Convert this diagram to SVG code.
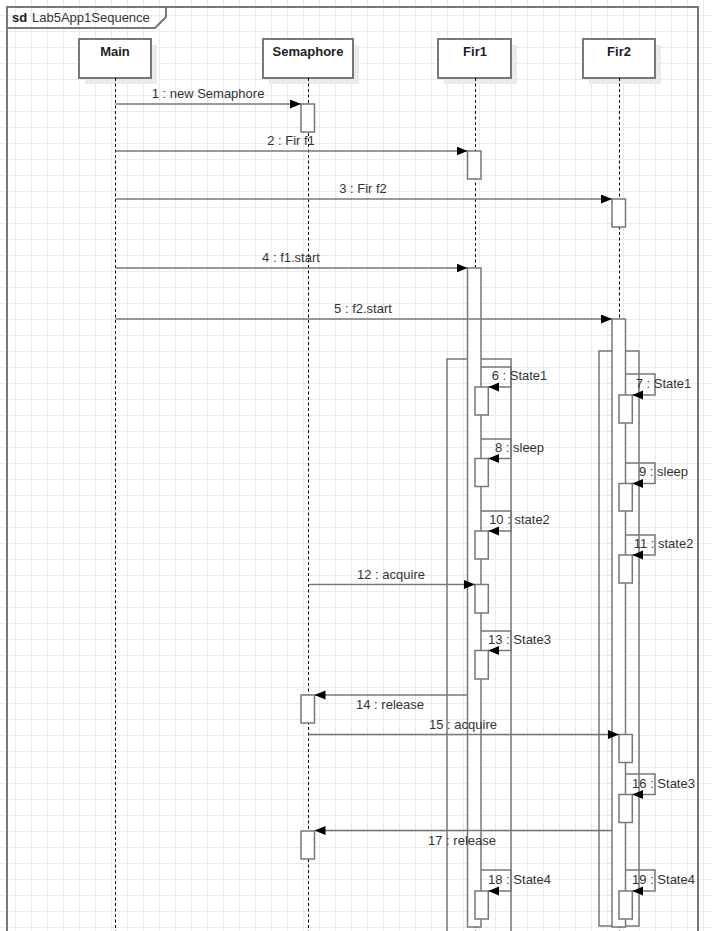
<svg xmlns="http://www.w3.org/2000/svg" width="712" height="931" viewBox="0 0 712 931">
  <defs>
    <pattern id="grid" width="16" height="16" patternUnits="userSpaceOnUse">
      <path d="M15.5,0 V16 M0,15.5 H16" fill="none" stroke="#ebebeb" stroke-width="1"/>
    </pattern>
    <marker id="arrow" markerUnits="userSpaceOnUse" markerWidth="12" markerHeight="10" refX="11" refY="4.5" orient="auto">
      <path d="M0,0 L11,4.5 L0,9 Z" fill="#000"/>
    </marker>
    <style>
      text { font-family: "Liberation Sans", Arial, sans-serif; font-size: 13px; fill: #333; }
      .head { font-weight: bold; fill: #222; text-anchor: middle; }
      .lbl { text-anchor: middle; }
      .box { fill: #fff; stroke: #787878; stroke-width: 2; }
      .shadow { fill: #ebebeb; }
      .life { stroke: #000; stroke-width: 1; stroke-dasharray: 3 2.5; fill: none; }
      .act { fill: #fff; stroke: #787878; stroke-width: 1.5; }
      .outer { fill: none; stroke: #787878; stroke-width: 1.5; }
      .msg { fill: none; stroke: #787878; stroke-width: 1.5; }
      .frame { fill: none; stroke: #787878; stroke-width: 2; }
    </style>
  </defs>

  <!-- background grid -->
  <rect x="0" y="0" width="712" height="931" fill="#fff"/>
  <rect x="0" y="0" width="712" height="931" fill="url(#grid)"/>

  <!-- interaction frame -->
  <g id="frame">
    <path class="frame" d="M7,931 V7 H698 V931"/>
    <path class="frame" d="M7,7 H166 V17 L155,28 H7"/>
    <text x="12" y="22" style="font-weight:bold;fill:#222">sd</text>
    <text x="32" y="22">Lab5App1Sequence</text>
  </g>

  <!-- lifelines -->
  <g id="Main">
    <rect class="shadow" x="85" y="45" width="72" height="39"/>
    <rect class="box" x="79" y="39" width="72" height="39"/>
    <text class="head" x="115" y="56">Main</text>
    <line class="life" x1="115.5" y1="78" x2="115.5" y2="931"/>
  </g>

  <g id="Semaphore">
    <rect class="shadow" x="269" y="45" width="90" height="39"/>
    <rect class="box" x="263" y="39" width="90" height="39"/>
    <text class="head" x="308" y="56">Semaphore</text>
    <line class="life" x1="308.5" y1="78" x2="308.5" y2="931"/>
    <rect class="act" x="301" y="104" width="13.5" height="28"/>
    <rect class="act" x="301" y="695" width="13.5" height="28"/>
    <rect class="act" x="301" y="831" width="13.5" height="28"/>
  </g>

  <g id="Fir1">
    <rect class="shadow" x="444" y="45" width="73" height="39"/>
    <rect class="box" x="438" y="39" width="73" height="39"/>
    <text class="head" x="475" y="56">Fir1</text>
    <line class="life" x1="475.5" y1="78" x2="475.5" y2="931"/>
    <rect class="act" x="467.5" y="151" width="13.5" height="28"/>
    <rect class="outer" x="447" y="359" width="64" height="590"/>
    <rect class="act" x="467.5" y="268" width="13.5" height="659"/>
    <rect class="act" x="475" y="387" width="13.3" height="28"/>
    <rect class="act" x="475" y="458.5" width="13.3" height="28"/>
    <rect class="act" x="475" y="531" width="13.3" height="28"/>
    <rect class="act" x="475" y="584.5" width="13.3" height="28.5"/>
    <rect class="act" x="475" y="650.5" width="13.3" height="28.5"/>
    <rect class="act" x="475" y="891" width="13.3" height="28"/>
  </g>

  <g id="Fir2">
    <rect class="shadow" x="589" y="45" width="72" height="39"/>
    <rect class="box" x="583" y="39" width="72" height="39"/>
    <text class="head" x="619" y="56">Fir2</text>
    <line class="life" x1="619.5" y1="78" x2="619.5" y2="931"/>
    <rect class="act" x="612" y="199" width="13.5" height="28"/>
    <rect class="outer" x="599" y="351" width="40" height="575"/>
    <rect class="act" x="612" y="319" width="13.5" height="608"/>
    <rect class="act" x="619" y="395" width="13.3" height="28"/>
    <rect class="act" x="619" y="483.5" width="13.3" height="27.5"/>
    <rect class="act" x="619" y="555" width="13.3" height="28"/>
    <rect class="act" x="619" y="734.5" width="13.3" height="28"/>
    <rect class="act" x="619" y="794.5" width="13.3" height="28"/>
    <rect class="act" x="619" y="891" width="13.3" height="28"/>
  </g>

  <!-- messages -->
  <g id="messages">
    <line class="msg" x1="115.5" y1="104" x2="301" y2="104" marker-end="url(#arrow)"/>
    <line class="msg" x1="115.5" y1="151" x2="467.5" y2="151" marker-end="url(#arrow)"/>
    <line class="msg" x1="115.5" y1="199" x2="612" y2="199" marker-end="url(#arrow)"/>
    <line class="msg" x1="115.5" y1="268" x2="467.5" y2="268" marker-end="url(#arrow)"/>
    <line class="msg" x1="115.5" y1="319" x2="612" y2="319" marker-end="url(#arrow)"/>

    <path class="msg" d="M481,367 H511 V387 H488.3" marker-end="url(#arrow)"/>
    <path class="msg" d="M625.5,374 H655 V395 H632.3" marker-end="url(#arrow)"/>
    <path class="msg" d="M481,439 H511 V458.5 H488.3" marker-end="url(#arrow)"/>
    <path class="msg" d="M625.5,463 H655 V483.5 H632.3" marker-end="url(#arrow)"/>
    <path class="msg" d="M481,511 H511 V531 H488.3" marker-end="url(#arrow)"/>
    <path class="msg" d="M625.5,535 H655 V555 H632.3" marker-end="url(#arrow)"/>

    <line class="msg" x1="308.5" y1="584.5" x2="475" y2="584.5" marker-end="url(#arrow)"/>
    <path class="msg" d="M481,631 H511 V650.5 H488.3" marker-end="url(#arrow)"/>
    <line class="msg" x1="467.5" y1="695" x2="314.5" y2="695" marker-end="url(#arrow)"/>
    <line class="msg" x1="308.5" y1="734.5" x2="619" y2="734.5" marker-end="url(#arrow)"/>
    <path class="msg" d="M625.5,774 H655 V794.5 H632.3" marker-end="url(#arrow)"/>
    <line class="msg" x1="612" y1="830.5" x2="314.5" y2="830.5" marker-end="url(#arrow)"/>
    <path class="msg" d="M481,870 H511 V891 H488.3" marker-end="url(#arrow)"/>
    <path class="msg" d="M625.5,870 H655 V891 H632.3" marker-end="url(#arrow)"/>

    <text class="lbl" x="208" y="98">1 : new Semaphore</text>
    <text class="lbl" x="291" y="145">2 : Fir f1</text>
    <text class="lbl" x="363" y="193">3 : Fir f2</text>
    <text class="lbl" x="291" y="262">4 : f1.start</text>
    <text class="lbl" x="363" y="313">5 : f2.start</text>
    <text class="lbl" x="519.5" y="380">6 : State1</text>
    <text class="lbl" x="663.5" y="388">7 : State1</text>
    <text class="lbl" x="519.5" y="452">8 : sleep</text>
    <text class="lbl" x="663.5" y="476">9 : sleep</text>
    <text class="lbl" x="519.5" y="524">10 : state2</text>
    <text class="lbl" x="663.5" y="548">11 : state2</text>
    <text class="lbl" x="391" y="579">12 : acquire</text>
    <text class="lbl" x="519.5" y="644">13 : State3</text>
    <text class="lbl" x="390" y="709">14 : release</text>
    <text class="lbl" x="463" y="729">15 : acquire</text>
    <text class="lbl" x="663.5" y="788">16 : State3</text>
    <text class="lbl" x="462" y="845">17 : release</text>
    <text class="lbl" x="519.5" y="884">18 : State4</text>
    <text class="lbl" x="663.5" y="884">19 : State4</text>
  </g>
</svg>
